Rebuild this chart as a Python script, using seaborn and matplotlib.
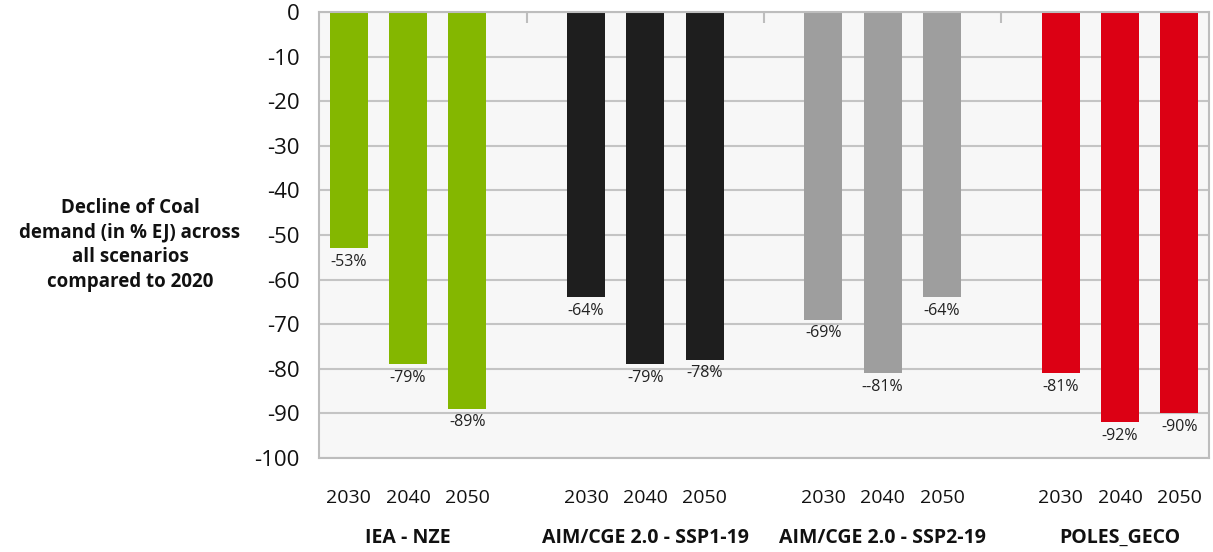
import matplotlib
matplotlib.use("Agg")
import matplotlib.pyplot as plt
import seaborn as sns
import pandas as pd

# data
scenarios = ["IEA - NZE", "AIM/CGE 2.0 - SSP1-19", "AIM/CGE 2.0 - SSP2-19", "POLES_GECO"]
years = ["2030", "2040", "2050"]
iea_nze = [-53, -79, -89]
aim_ssp1 = [-64, -79, -78]
aim_ssp2 = [-69, -81, -64]
poles_geco = [-81, -92, -90]
value_labels = [
    ["-53%", "-79%", "-89%"],
    ["-64%", "-79%", "-78%"],
    ["-69%", "--81%", "-64%"],
    ["-81%", "-92%", "-90%"],
]
colors = ["#84b700", "#1e1e1e", "#9e9e9e", "#dc0014"]

sns.set_theme(style="white")
plt.rcParams["font.family"] = ["Open Sans", "DejaVu Sans"]

rows = []
for sc, vals in zip(scenarios, [iea_nze, aim_ssp1, aim_ssp2, poles_geco]):
    for yr, v in zip(years, vals):
        rows.append({"slot": sc + "|" + yr, "scenario": sc, "value": v})
df = pd.DataFrame(rows)

# slot order: three bars per scenario with an empty slot between groups
order = []
for i, sc in enumerate(scenarios):
    order += [sc + "|" + yr for yr in years]
    if i < len(scenarios) - 1:
        order.append("gap%d" % i)

fig = plt.figure(figsize=(12.13, 5.52), dpi=100)
ax = fig.add_axes([319 / 1213, 1 - 458 / 552, 890 / 1213, 446 / 552])

sns.barplot(data=df, x="slot", y="value", hue="scenario", order=order,
            hue_order=scenarios, palette=colors, dodge=False, width=0.64,
            legend=False, ax=ax, saturation=1, linewidth=0)

ax.set_facecolor("#f7f7f7")
ax.set_ylim(-100, 0)
ax.set_xlim(-0.5, len(order) - 0.5)
ax.set_yticks(range(-100, 1, 10))
ax.set_yticklabels([str(t) for t in range(-100, 1, 10)], fontsize=16, color="#111111")
ax.yaxis.grid(True, color="#c4c4c4", linewidth=1.5)
ax.set_axisbelow(True)
for s in ax.spines.values():
    s.set_color("#bdbdbd")
    s.set_linewidth(1.5)
ax.tick_params(axis="y", length=0, pad=14)

xt = []
for i, o in enumerate(order):
    xt.append(o.split("|")[1] if "|" in o else "")
ax.set_xticks(range(len(order)))
ax.set_xticklabels(xt, fontsize=14, color="#111111")
ax.tick_params(axis="x", length=0, pad=22)
ax.set_xlabel("")
ax.set_ylabel("")

# separator ticks at top
top = ax.secondary_xaxis("top")
top.set_xticks([3, 7, 11])
top.set_xticklabels([])
top.tick_params(direction="in", length=8, width=1.5, color="#bdbdbd")
top.spines["top"].set_visible(False)

# value labels under bar ends
for gi, sc in enumerate(scenarios):
    vals = [iea_nze, aim_ssp1, aim_ssp2, poles_geco][gi]
    for yi, yr in enumerate(years):
        x = order.index(sc + "|" + yr)
        ax.text(x, vals[yi] - 1.2, value_labels[gi][yi], ha="center", va="top",
                fontsize=11.5, color="#222222")

# scenario names under year labels
for gi, sc in enumerate(scenarios):
    x = order.index(sc + "|2040")
    ax.text(x, -0.18, sc, transform=ax.get_xaxis_transform(), ha="center",
            va="center", fontsize=14, fontweight="bold", color="#111111")

fig.text(130 / 1213, 1 - 245 / 552,
         "Decline of Coal\ndemand (in % EJ) across\nall scenarios\ncompared to 2020",
         ha="center", va="center", fontsize=13.5, fontweight="bold",
         color="#111111", linespacing=1.3)

fig.savefig("out.png", dpi=100, facecolor="white")
